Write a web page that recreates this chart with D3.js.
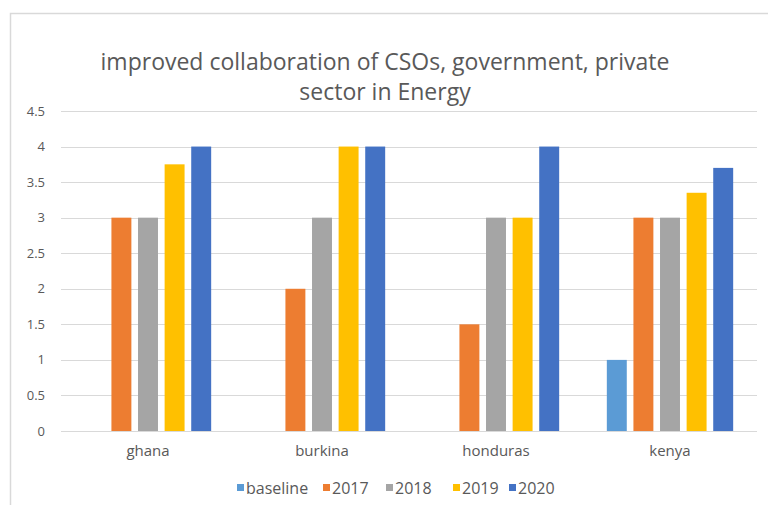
<!DOCTYPE html>
<html>
<head>
<meta charset="utf-8">
<script src="https://cdn.jsdelivr.net/npm/d3@7"></script>
<style>
  body { margin: 0; background: #fff; }
  text { font-family: "Open Sans", sans-serif; fill: #595959; }
</style>
</head>
<body>
<div id="chart"></div>
<script>
const countries = ["ghana", "burkina", "honduras", "kenya"];
const series = ["baseline", "2017", "2018", "2019", "2020"];
const baseline = [0, 0, 0, 1];
const y2017 = [3, 2, 1.5, 3];
const y2018 = [3, 3, 3, 3];
const y2019 = [3.75, 4, 3, 3.35];
const y2020 = [4, 4, 4, 3.7];
const yTicks = [0, 0.5, 1, 1.5, 2, 2.5, 3, 3.5, 4, 4.5];
const colors = ["#5b9bd5", "#ed7d31", "#a5a5a5", "#ffc000", "#4472c4"];

const values = [baseline, y2017, y2018, y2019, y2020];
const rows = countries.map((c, i) => ({
  country: c,
  vals: series.map((s, j) => ({key: s, value: values[j][i], color: colors[j]}))
}));

const width = 768, height = 505;
const margin = {top: 111, right: 11, bottom: 74, left: 61};

const svg = d3.select("#chart").append("svg")
    .attr("width", width)
    .attr("height", height);

// chart frame
svg.append("rect")
    .attr("x", 10.5).attr("y", 13.5)
    .attr("width", 770).attr("height", 520)
    .attr("fill", "none")
    .attr("stroke", "#d9d9d9")
    .attr("stroke-width", 1.5);

const x0 = d3.scaleBand()
    .domain(countries)
    .range([margin.left, width - margin.right]);

const x1 = d3.scaleBand()
    .domain(series)
    .range([-66.5, 66.5])
    .paddingInner(0.25)
    .paddingOuter(0.125);

const y = d3.scaleLinear()
    .domain([0, 4.5])
    .range([height - margin.bottom, margin.top]);

// gridlines
svg.append("g").selectAll("line")
    .data(yTicks).enter().append("line")
    .attr("x1", margin.left).attr("x2", width - margin.right)
    .attr("y1", d => Math.round(y(d)) + 0.5).attr("y2", d => Math.round(y(d)) + 0.5)
    .attr("stroke", "#d9d9d9")
    .attr("stroke-width", 1);

// y labels
svg.append("g").selectAll("text")
    .data(yTicks).enter().append("text")
    .attr("x", 45)
    .attr("y", d => y(d))
    .attr("dy", "0.35em")
    .attr("text-anchor", "end")
    .style("font-size", "13px")
    .text(d => d);

// bars
const groups = svg.append("g").selectAll("g")
    .data(rows).enter().append("g")
    .attr("transform", d => `translate(${x0(d.country) + x0.bandwidth() / 2},0)`);

groups.selectAll("rect")
    .data(d => d.vals.filter(v => v.value > 0))
    .enter().append("rect")
    .attr("x", d => x1(d.key))
    .attr("width", x1.bandwidth())
    .attr("y", d => y(d.value))
    .attr("height", d => y(0) - y(d.value))
    .attr("fill", d => d.color);

// category labels
svg.append("g").selectAll("text")
    .data(countries).enter().append("text")
    .attr("x", d => x0(d) + x0.bandwidth() / 2)
    .attr("y", 456)
    .attr("text-anchor", "middle")
    .style("font-size", "15px")
    .text(d => d);

// title
const title = svg.append("text")
    .attr("x", 385)
    .attr("text-anchor", "middle")
    .style("font-size", "23px");
title.append("tspan").attr("x", 385).attr("y", 70)
    .text("improved collaboration of CSOs, government, private");
title.append("tspan").attr("x", 385).attr("y", 100)
    .text("sector in Energy");

// legend
const legendX = [237, 323, 386, 453, 509];
const legend = svg.append("g").selectAll("g")
    .data(series).enter().append("g")
    .attr("transform", (d, i) => `translate(${legendX[i]},488)`);
legend.append("rect")
    .attr("x", 0).attr("y", -4)
    .attr("width", 7).attr("height", 7)
    .attr("fill", (d, i) => colors[i]);
legend.append("text")
    .attr("x", 9)
    .attr("dy", "0.35em")
    .style("font-size", "16px")
    .text(d => d);
</script>
</body>
</html>
